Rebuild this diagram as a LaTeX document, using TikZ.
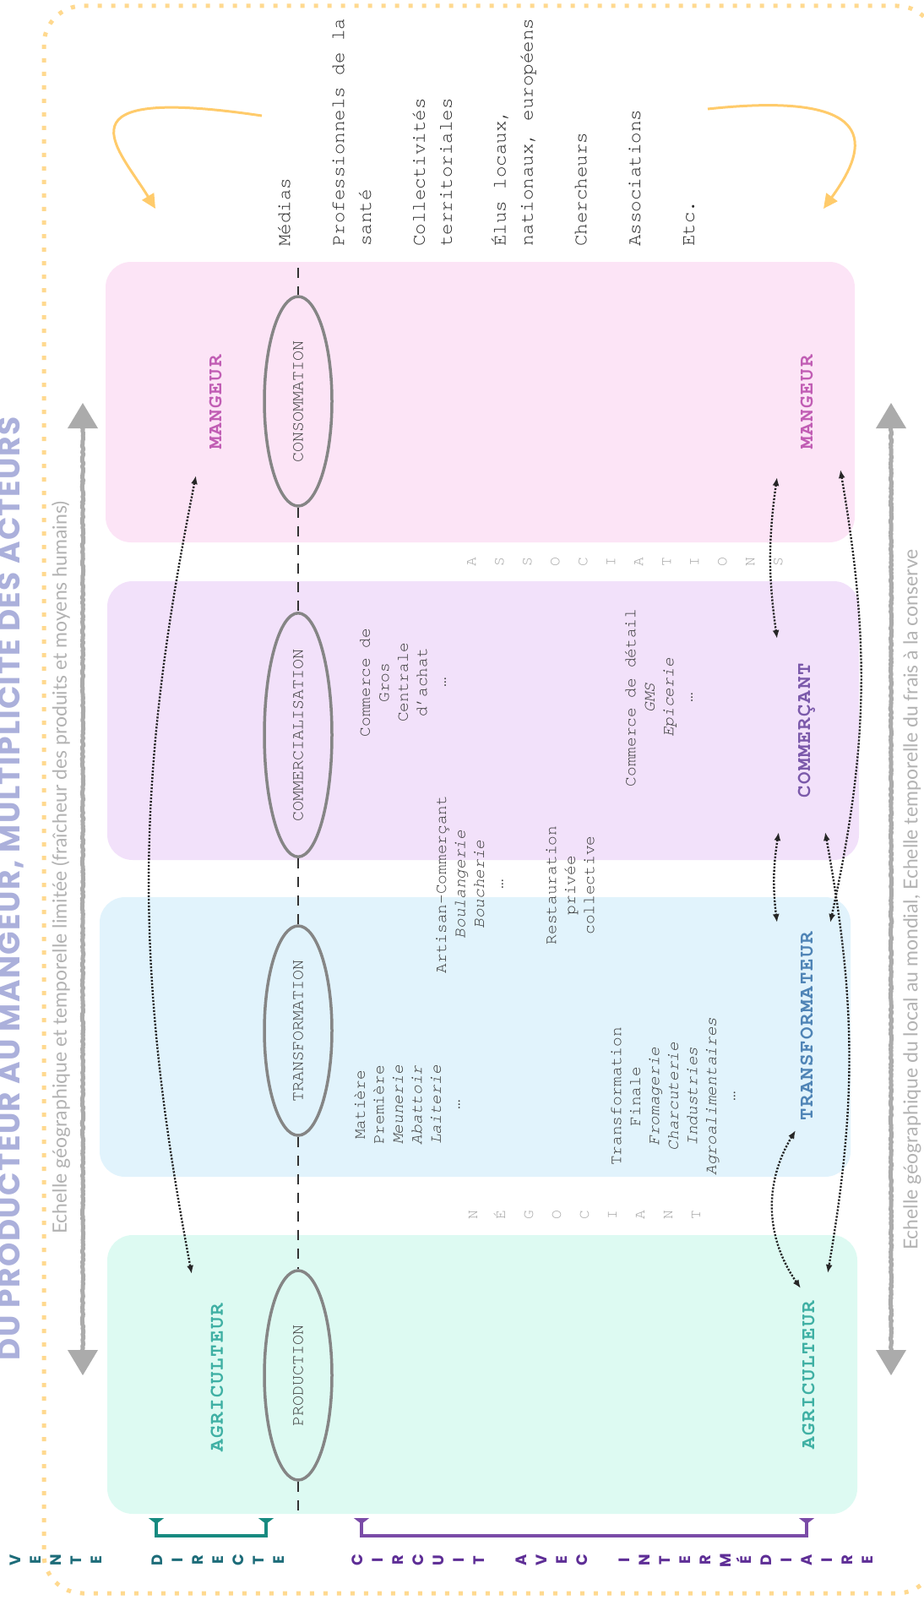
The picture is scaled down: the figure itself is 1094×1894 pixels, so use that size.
\documentclass[tikz,border=0pt]{standalone}
\usepackage{fontspec}
\usetikzlibrary{arrows.meta,shapes.geometric,decorations.pathmorphing}

\setmainfont{Liberation Serif}
\newfontfamily\cmono{TeX Gyre Cursor}
\newfontfamily\cactor{TeX Gyre Cursor}[LetterSpace=7]
\newfontfamily\ctitle{Poppins}[LetterSpace=4]
\newfontfamily\cspaced{Poppins}
\newfontfamily\clight{Lato}

\definecolor{panelpink}{HTML}{FCE4F6}
\definecolor{panelmauve}{HTML}{F2E1FA}
\definecolor{panelblue}{HTML}{E1F3FC}
\definecolor{panelmint}{HTML}{DDFAF2}
\definecolor{agricol}{HTML}{3FB0A4}
\definecolor{transcol}{HTML}{4F84B6}
\definecolor{commcol}{HTML}{7B59AA}
\definecolor{mangcol}{HTML}{C15DB4}
\definecolor{titlecol}{HTML}{ABB0DB}
\definecolor{scalecol}{HTML}{ABABAB}
\definecolor{scaletxt}{HTML}{B2B2B2}
\definecolor{orangecol}{HTML}{FFCB6B}
\definecolor{framecol}{HTML}{FFD98F}
\definecolor{directcol}{HTML}{1D6C79}
\definecolor{circuitcol}{HTML}{5E2E96}
\definecolor{tealcol}{HTML}{178A80}
\definecolor{purplecol}{HTML}{7A4BA7}
\definecolor{stagecol}{HTML}{858585}
\definecolor{inkcol}{HTML}{3A3A3A}

\begin{document}
\begin{tikzpicture}[x=1pt, y=1pt,
    panel/.style={rounded corners=30pt},
    frame/.style={draw=framecol, line width=5pt, dash pattern=on 5pt off 11pt, rounded corners=46pt},
    stage/.style={ellipse, draw=stagecol, line width=3.5pt, rotate=90, minimum height=80pt,
      inner sep=0pt, text=inkcol, font=\cmono\fontsize{20}{20}\selectfont},
    axis/.style={draw=black!80, line width=2pt, dash pattern=on 12pt off 10pt},
    actor/.style={rotate=90, inner sep=0pt, font=\cactor\bfseries\fontsize{24}{24}\selectfont},
    block/.style={rotate=90, align=center, inner sep=0pt, text=inkcol,
      font=\cmono\fontsize{19.5}{22.5}\selectfont},
    spaced/.style={rotate=90, align=center, inner sep=0pt, text=black!35,
      font=\cmono\fontsize{18}{33}\selectfont},
    scaletext/.style={rotate=90, anchor=west, inner sep=0pt, text=scaletxt,
      font=\clight\fontsize{23}{23}\selectfont},
    scaleline/.style={draw=scalecol, line width=5pt, line join=round, decorate,
      decoration={random steps, segment length=2pt, amplitude=0.8pt}},
    link/.style={draw=black!85, line width=2.4pt, dash pattern=on 2.2pt off 1.8pt,
      {Latex[length=10pt,width=8pt]}-{Latex[length=10pt,width=8pt]}},
    loopback/.style={draw=orangecol, line width=3pt, -{Triangle[length=17pt,width=16pt]}},
    bracket/.style={line width=4pt, {Triangle[reversed,length=7pt,width=18pt]}-{Triangle[reversed,length=7pt,width=18pt]}},
    letters/.style={rotate=90, align=center, inner sep=0pt,
      font=\cspaced\bfseries\fontsize{18}{24}\selectfont}
  ]

  \useasboundingbox (0,0) rectangle (1094,-1894);
  \clip (0,0) rectangle (1094,-1894);

  % Dotted frame
  \draw[frame] (52,-7) rectangle (1108,-1886);

  % Panels, one per stage
  \fill[panelpink, panel] (125,-310) rectangle (1012,-642);
  \fill[panelmauve, panel] (127,-688) rectangle (1017,-1018);
  \fill[panelblue, panel] (118,-1062) rectangle (1007,-1393);
  \fill[panelmint, panel] (127,-1462) rectangle (1015,-1792);

  % Title and the two scales
  \node[rotate=90, inner sep=0pt, text=titlecol, font=\ctitle\bfseries\fontsize{36}{36}\selectfont]
    (title) at (13,-1052) {DU PRODUCTEUR AU MANGEUR, MULTIPLICITE DES ACTEURS};
  \node[scaletext] (scaleL) at (72,-1461)
    {Echelle géographique et temporelle limitée (fraîcheur des produits et moyens humains)};
  \node[scaletext] (scaleR) at (1080,-1480)
    {Echelle géographique du local au mondial, Echelle temporelle du frais à la conserve};

  \foreach \x in {98,1055} {
    \draw[scaleline] (\x,-500) -- (\x,-1604);
    \fill[scalecol] (\x,-477) -- (\x-18,-507) -- (\x+18,-507) -- cycle;
    \fill[scalecol] (\x,-1628) -- (\x-18,-1598) -- (\x+18,-1598) -- cycle;
  }

  % Stages on the dashed axis
  \node[stage, minimum width=248pt] (conso) at (353,-475) {CONSOMMATION};
  \node[stage, minimum width=270pt] (comm) at (353,-870) {COMMERCIALISATION};
  \node[stage, minimum width=248pt] (transf) at (353,-1220) {TRANSFORMATION};
  \node[stage, minimum width=248pt] (prod) at (353,-1628) {PRODUCTION};

  \coordinate (axisTop) at (353,-317);
  \coordinate (axisBot) at (353,-1790);
  \draw[axis] (axisTop) -- (conso.east) (conso.west) -- (comm.east)
    (comm.west) -- (transf.east) (transf.west) -- (prod.east) (prod.west) -- (axisBot);

  % Actors
  \node[actor, text=mangcol] (mangL) at (255,-476) {MANGEUR};
  \node[actor, text=agricol] (agriL) at (257,-1631) {AGRICULTEUR};
  \node[actor, text=mangcol] (mangR) at (955,-476) {MANGEUR};
  \node[actor, text=commcol] (commR) at (955,-865) {COMMERÇANT};
  \node[actor, text=transcol] (transR) at (955,-1215) {TRANSFORMATEUR};
  \node[actor, text=agricol] (agriR) at (957,-1628) {AGRICULTEUR};

  % Examples in each stage
  \node[block] (gros) at (477,-808) {Commerce de\\Gros\\Centrale\\d’achat\\…};
  \node[block] (detail) at (780,-826) {Commerce de détail\\\textit{GMS}\\\textit{Epicerie}\\…};
  \node[block] (artisan) at (556,-1047) {Artisan-Commerçant\\\textit{Boulangerie}\\\textit{Boucherie}\\…};
  \node[block] (resto) at (675,-1048) {Restauration\\privée\\collective};
  \node[block] (matiere) at (482,-1308)
    {Matière\\Première\\\textit{Meunerie}\\\textit{Abattoir}\\\textit{Laiterie}\\…};
  \node[block] (finale) at (797,-1298)
    {Transformation\\Finale\\\textit{Fromagerie}\\\textit{Charcuterie}\\\textit{Industries}\\\textit{Agroalimentaires}\\…};

  \node[spaced] (assoc) at (740,-665) {A\\S\\S\\O\\C\\I\\A\\T\\I\\O\\N\\S};
  \node[spaced] (negoc) at (692,-1438) {N\\É\\G\\O\\C\\I\\A\\N\\T};

  % Other actors
  \node[rotate=90, anchor=north west, align=left, inner sep=0pt, text=black!85,
    font=\cmono\fontsize{22.5}{31.9}\selectfont] (publics) at (329,-292)
    {Médias\\[31.9pt]Professionnels de la\\santé\\[31.9pt]Collectivités\\territoriales\\[31.9pt]Élus locaux,\\nationaux, européens\\[31.9pt]Chercheurs\\[31.9pt]Associations\\[31.9pt]Etc.};

  \coordinate (orgL) at (310,-137);
  \coordinate (tipL) at (184,-247);
  \coordinate (orgR) at (838,-129);
  \coordinate (tipR) at (975,-247);
  \draw[loopback] (orgL) .. controls (60,-100) and (140,-175) .. (tipL);
  \draw[loopback] (orgR) .. controls (1060,-105) and (1020,-185) .. (tipR);

  % Exchanges between actors
  \draw[link] ([shift={(-23,-87)}]mangL.center) to[bend right=11] ([shift={(-30,123)}]agriL.center);
  \draw[link] ([shift={(-35,-89)}]mangR.center) to[bend right=8] ([shift={(-35,109)}]commR.center);
  \draw[link] ([shift={(-33,-120)}]commR.center) to[bend right=8] ([shift={(-35,123)}]transR.center);
  \draw[link] ([shift={(40,-80)}]mangR.center) to[bend left=11] ([shift={(28,123)}]transR.center);
  \draw[link] ([shift={(22,-120)}]commR.center) to[bend left=10] ([shift={(23,121)}]agriR.center);
  \draw[link] ([shift={(-13,-123)}]transR.center) to[bend right=33] ([shift={(-9,103)}]agriR.center);

  % Direct sale and circuit with intermediaries
  \coordinate (dirA) at (185,-1797);
  \coordinate (dirB) at (315,-1797);
  \coordinate (cirA) at (428,-1797);
  \coordinate (cirB) at (955,-1797);
  \draw[bracket, draw=tealcol] (dirA) -- ++(0,-21) -| (dirB);
  \draw[bracket, draw=purplecol] (cirA) -- ++(0,-21) -| (cirB);

  \node[letters, text=directcol] (vente) at (174,-1847)
    {V\\E\\N\\T\\E\\[48pt]D\\I\\R\\E\\C\\T\\E};
  \node[letters, text=circuitcol] (circuit) at (725,-1847)
    {C\\I\\R\\C\\U\\I\\T\\[26pt]A\\V\\E\\C\\[26pt]I\\N\\T\\E\\R\\M\\É\\D\\I\\A\\I\\R\\E};

\end{tikzpicture}
\end{document}
